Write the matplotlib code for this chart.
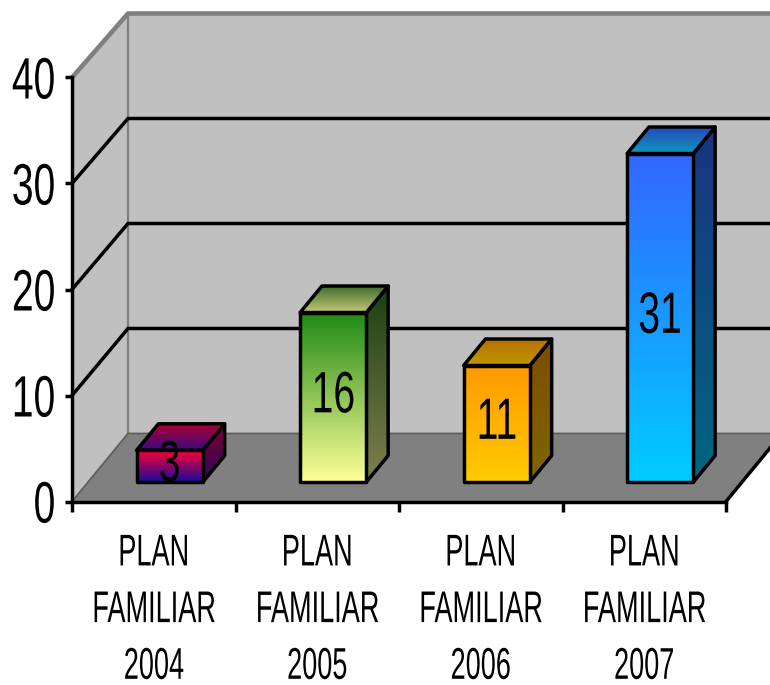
import matplotlib
matplotlib.use("Agg")
import matplotlib.pyplot as plt
import numpy as np
from matplotlib.colors import to_rgb
from matplotlib.patches import Polygon
from matplotlib.patheffects import AbstractPathEffect
from matplotlib.transforms import Affine2D, Bbox

categories = ["PLAN\nFAMILIAR\n2004", "PLAN\nFAMILIAR\n2005", "PLAN\nFAMILIAR\n2006", "PLAN\nFAMILIAR\n2007"]
values = [3, 16, 11, 31]
y_ticks = [0, 10, 20, 30, 40]

# (top, bottom) colours of each face
front_colors = [("#ff0033", "#1a0a99"), ("#1f8a14", "#ffff99"), ("#ff9900", "#ffcc00"), ("#3366ff", "#00ccff")]
side_colors = [("#7a0030", "#30065c"), ("#1a4010", "#808050"), ("#7f4c00", "#7f6600"), ("#1a3380", "#006680")]
roof_colors = [("#b00030", "#3a0a80"), ("#3e6e2a", "#c8c878"), ("#b87000", "#bf9900"), ("#2648b8", "#0f99bf")]

plt.rcParams["font.family"] = ["Liberation Sans", "DejaVu Sans"]

W, H = 770, 685
fig = plt.figure(figsize=(W / 100, H / 100), dpi=100)
ax = fig.add_axes([72 / W, (H - 501.5) / H, 654 / W, 424 / H])
ax.set_xlim(0, 4)
ax.set_ylim(0, 40)
ax.set_autoscale_on(False)

# depth of the box, in data units
depth_x = 56 / 654 * 4
depth_y = 68 / 424 * 40
back_scale = 420 / 424  # back wall is a bit smaller than the front plane
gap = 0.285
bar_depth = 0.39
bar_width = 0.405
LW = 2.5


class Squeeze(AbstractPathEffect):
    # the original text is a horizontally squeezed Arial, no narrow font is installed
    def __init__(self, sx, right=False):
        super().__init__()
        self.sx = sx
        self.right = right

    def draw_path(self, renderer, gc, tpath, affine, rgbFace=None):
        box = tpath.transformed(affine).get_extents()
        cx = box.x1 if self.right else (box.x0 + box.x1) / 2
        t = affine + Affine2D().translate(-cx, 0).scale(self.sx, 1).translate(cx, 0)
        renderer.draw_path(gc, tpath, t, rgbFace)


def squeeze_text(text, sx, right=False):
    text.set_path_effects([Squeeze(sx, right)])
    orig = text.get_window_extent

    def extent(renderer=None, dpi=None):
        b = orig(renderer, dpi)
        cx = b.x1 if right else (b.x0 + b.x1) / 2
        return Bbox([[cx + (b.x0 - cx) * sx, b.y0], [cx + (b.x1 - cx) * sx, b.y1]])

    text.get_window_extent = extent


def shift(x, y, d):
    return x + depth_x * d, y + depth_y * d


def gradient_face(points, colors, zorder):
    poly = Polygon(points, closed=True, facecolor="none", edgecolor="black", lw=LW,
                   joinstyle="round", zorder=zorder + 0.1, clip_on=False)
    ax.add_patch(poly)
    xs = [p[0] for p in points]
    ys = [p[1] for p in points]
    top, bottom = np.array(to_rgb(colors[0])), np.array(to_rgb(colors[1]))
    t = np.linspace(0, 1, 256)[:, None, None]
    img = top[None, None, :] * (1 - t) + bottom[None, None, :] * t
    im = ax.imshow(img, extent=(min(xs), max(xs), min(ys), max(ys)), aspect="auto",
                   origin="upper", zorder=zorder, interpolation="bilinear")
    im.set_clip_path(poly)


# walls and floor
wall = "#c0c0c0"
edge = "#808080"
ymax = y_ticks[-1]
back_top = ymax * back_scale + depth_y
back = [shift(0, 0, 1), shift(4, 0, 1), (4 + depth_x, back_top), (depth_x, back_top)]
side = [(0, 0), shift(0, 0, 1), (depth_x, back_top), (0, ymax)]
floor = [(0, 0), (4, 0), shift(4, 0, 1), shift(0, 0, 1)]
ax.add_patch(Polygon(back, closed=True, fc=wall, ec="none", zorder=1, clip_on=False))
ax.add_patch(Polygon(side, closed=True, fc=wall, ec="none", zorder=1, clip_on=False))
ax.add_patch(Polygon(floor, closed=True, fc="#808080", ec="none", zorder=1.1, clip_on=False))

for v in y_ticks[1:-1]:
    xs = [0, depth_x, 4 + depth_x]
    ys = [v, v * back_scale + depth_y, v * back_scale + depth_y]
    ax.plot(xs, ys, color="black", lw=LW, zorder=1.3, clip_on=False, solid_joinstyle="miter")

# grey edges of the walls
ax.plot([0, depth_x, 4 + depth_x], [ymax, back_top, back_top], color=edge, lw=LW + 0.8, zorder=1.2, clip_on=False)
ax.plot([depth_x, depth_x], [depth_y, back_top], color=edge, lw=1.6, zorder=1.2, clip_on=False)
ax.plot([0, depth_x, 4 + depth_x], [0, depth_y, depth_y], color="#5f5f5f", lw=1.3, zorder=1.2, clip_on=False)
ax.plot([4, 4 + depth_x], [0, depth_y], color="black", lw=LW, zorder=1.3, clip_on=False)

# bars
for i, val in enumerate(values):
    x0 = i + 0.5 - bar_width / 2
    x1 = i + 0.5 + bar_width / 2
    p00 = shift(x0, 0, gap)
    p10 = shift(x1, 0, gap)
    p01 = shift(x0, val, gap)
    p11 = shift(x1, val, gap)
    d = gap + bar_depth
    z = 2 + i
    gradient_face([p10, shift(x1, 0, d), shift(x1, val, d), p11], side_colors[i], z)
    gradient_face([p01, p11, shift(x1, val, d), shift(x0, val, d)], roof_colors[i], z + 0.2)
    gradient_face([p00, p10, p11, p01], front_colors[i], z + 0.4)
    label = ax.text((p00[0] + p10[0]) / 2, p00[1] + val / 2, str(val), ha="center", va="center",
                    fontsize=42, color="black", zorder=z + 0.6, clip_on=False)
    squeeze_text(label, 0.67)

# axes
for name in ["top", "right"]:
    ax.spines[name].set_visible(False)
for name in ["left", "bottom"]:
    ax.spines[name].set_linewidth(LW)
    ax.spines[name].set_zorder(1.5)
ax.patch.set_visible(False)
ax.set_yticks(y_ticks)
ax.set_xticks(range(5))
ax.set_xticklabels([])
ax.set_xticks(np.arange(4) + 0.5, minor=True)
ax.set_xticklabels(categories, minor=True, fontsize=32, linespacing=1.49)
ax.tick_params(axis="x", which="major", length=7, width=LW)
ax.tick_params(axis="x", which="minor", length=0, pad=23)
ax.tick_params(axis="y", length=5, width=LW, pad=6.5, labelsize=42)
for lbl in ax.get_xticklabels(minor=True):
    squeeze_text(lbl, 0.61)
for lbl in ax.get_yticklabels():
    squeeze_text(lbl, 0.67, right=True)

fig.savefig("out.png", dpi=100)
